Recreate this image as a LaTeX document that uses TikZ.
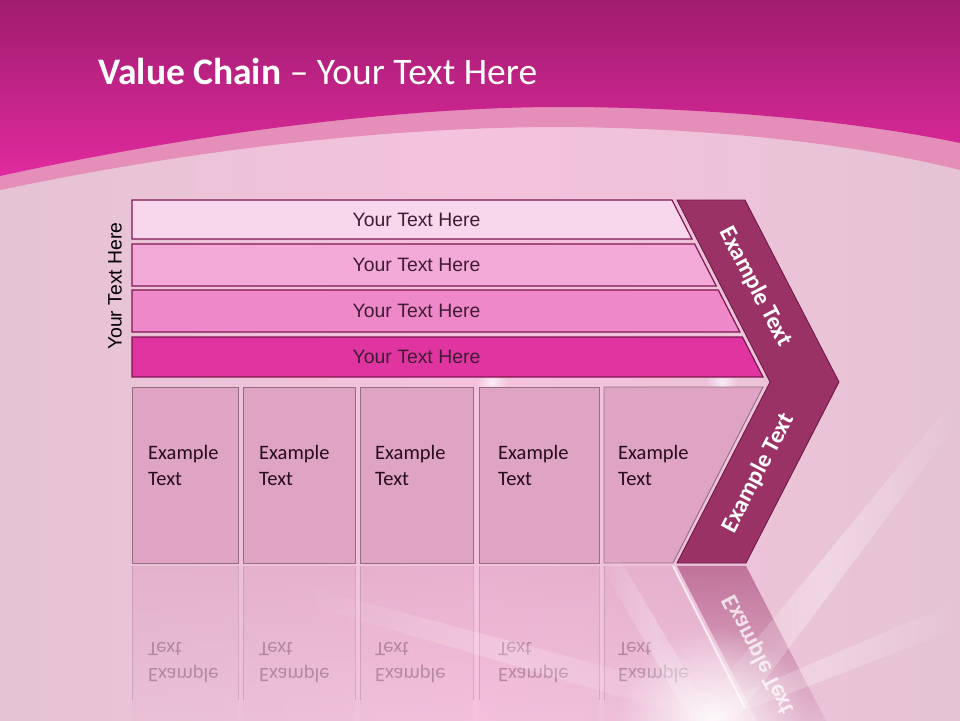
\documentclass[tikz,border=0pt]{standalone}
\usepackage{fontspec}
\setmainfont{Carlito}
\newfontfamily\barfont{Liberation Sans}
\usetikzlibrary{positioning}
\usetikzlibrary{fadings}

\definecolor{topdark}{RGB}{160,28,110}
\definecolor{topmid}{RGB}{224,42,158}
\definecolor{bandpink}{RGB}{229,142,186}
\definecolor{lightbg}{RGB}{245,194,222}
\definecolor{edgebg}{RGB}{229,195,211}
\definecolor{barA}{RGB}{248,215,237}
\definecolor{barB}{RGB}{244,170,216}
\definecolor{barC}{RGB}{238,136,200}
\definecolor{barD}{RGB}{224,53,160}
\definecolor{barline}{RGB}{128,22,82}
\definecolor{boxfill}{RGB}{223,163,195}
\definecolor{boxline}{RGB}{150,110,132}
\definecolor{chevfill}{RGB}{155,50,102}
\definecolor{chevline}{RGB}{105,22,66}
\definecolor{bartext}{RGB}{62,28,52}
\definecolor{boxtext}{RGB}{40,12,30}

\tikzfading[name=reflectfade, top color=transparent!45, bottom color=transparent!100]
\tikzfading[name=glowfade, inner color=transparent!0, outer color=transparent!100]
\tikzfading[name=rayfade, left color=transparent!100, right color=transparent!100, middle color=transparent!40]

\begin{document}
\begin{tikzpicture}[x=1pt, y=-1pt,
                    bar/.style={draw=barline, line width=1.2pt},
                    bartxt/.style={text=bartext, inner sep=0pt, font=\barfont\fontsize{19.4}{22}\selectfont},
                    exbox/.style={draw=boxline, line width=0.9pt, fill=boxfill},
                    boxtxt/.style={text=boxtext, anchor=west, align=left, inner sep=0pt, font=\fontsize{20.5}{26}\selectfont},
                    chevtxt/.style={text=white, inner sep=0pt, font=\bfseries\fontsize{24}{26}\selectfont},
                    mirror/.style={yscale=-1, opacity=0.28},
                    ray/.style={fill=white, path fading=rayfade},
                   ]
  \useasboundingbox (0,0) rectangle (960,720);

  %Background
  \shade[left color=edgebg, right color=edgebg, middle color=lightbg] (0,0) rectangle (960,720);
  \fill[bandpink] (0,0) -- (960,0) -- (960,170) .. controls (860,145) and (720,128) .. (560,127)
                  .. controls (420,127) and (230,142) .. (0,190) -- cycle;
  \shade[top color=topdark, bottom color=topmid] (0,0) -- (960,0) -- (960,143)
                  .. controls (850,120) and (700,107) .. (560,107)
                  .. controls (420,107) and (220,128) .. (0,176) -- cycle;

  %Title
  \node[anchor=base west, text=white, inner sep=0pt, font=\fontsize{37.5}{42}\selectfont] (title) at (98,84)
       {\textbf{Value Chain} – Your Text Here};

  %Glows
  \fill[white, opacity=0.7, path fading=glowfade] (492,382) circle (16);
  \fill[white, opacity=0.7, path fading=glowfade] (722,382) circle (16);

  %Bars
  \draw[bar, fill=barA] (132,200) -- (672,200) -- (692,239) -- (132,239) -- cycle;
  \draw[bar, fill=barB] (132,244) -- (694.6,244) -- (716.2,286) -- (132,286) -- cycle;
  \draw[bar, fill=barC] (132,290) -- (718.3,290) -- (739.9,332) -- (132,332) -- cycle;
  \draw[bar, fill=barD] (132,337) -- (742.4,337) -- (763,377) -- (132,377) -- cycle;
  \node[bartxt] (bar1) at (416.5,219.5) {Your Text Here};
  \node[bartxt] (bar2) at (416.5,265)   {Your Text Here};
  \node[bartxt] (bar3) at (416.5,311)   {Your Text Here};
  \node[bartxt] (bar4) at (416.5,357)   {Your Text Here};
  \node[bartxt, text=black, rotate=90] (side) at (115,286) {Your Text Here};

  %Boxes
  \draw[exbox] (132,387) rectangle (238,563);
  \draw[exbox] (243,387) rectangle (355,563);
  \draw[exbox] (360,387) rectangle (473,563);
  \draw[exbox] (479,387) rectangle (599,563);
  \draw[exbox] (604,387) -- (763,387) -- (673,563) -- (604,563) -- cycle;
  \node[boxtxt] (ex1) at (148,465) {Example\\Text};
  \node[boxtxt] (ex2) at (259,465) {Example\\Text};
  \node[boxtxt] (ex3) at (375,465) {Example\\Text};
  \node[boxtxt] (ex4) at (498,465) {Example\\Text};
  \node[boxtxt] (ex5) at (618,465) {Example\\Text};

  %Chevron
  \draw[fill=chevfill, draw=chevline, line width=0.8pt]
       (677,200) -- (745,200) -- (839,382) -- (746,563) -- (677,563) -- (770,382) -- cycle;
  \node[chevtxt, rotate=-62.5] (chevtop) at (755.5,287) {Example Text};
  \node[chevtxt, rotate=62.5]  (chevbot) at (758.5,473) {Example Text};

  %Reflections
  \fill[boxfill, path fading=reflectfade] (132,566) rectangle (238,742);
  \fill[boxfill, path fading=reflectfade] (243,566) rectangle (355,742);
  \fill[boxfill, path fading=reflectfade] (360,566) rectangle (473,742);
  \fill[boxfill, path fading=reflectfade] (479,566) rectangle (599,742);
  \fill[boxfill, path fading=reflectfade] (604,566) -- (673,566) -- (763,742) -- (604,742) -- cycle;
  \draw[boxline, opacity=0.3] (132,566) -- (132,700) (238,566) -- (238,700) (243,566) -- (243,700)
       (355,566) -- (355,700) (360,566) -- (360,700) (473,566) -- (473,700) (479,566) -- (479,700)
       (599,566) -- (599,700) (604,566) -- (604,700);
  \draw[white, line width=2pt, opacity=0.7] (673,566) -- (745,708);
  \fill[chevfill, path fading=reflectfade] (677,566) -- (746,566) -- (839,746) -- (770,746) -- cycle;
  \node[boxtxt, mirror] (mex1) at (148,663) {Example\\Text};
  \node[boxtxt, mirror] (mex2) at (259,663) {Example\\Text};
  \node[boxtxt, mirror] (mex3) at (375,663) {Example\\Text};
  \node[boxtxt, mirror] (mex4) at (498,663) {Example\\Text};
  \node[boxtxt, mirror] (mex5) at (618,663) {Example\\Text};
  \node[chevtxt, yscale=-1, rotate=62.5, opacity=0.75] (mchev) at (758.5,655) {Example Text};

  %Light rays
  \fill[ray, opacity=0.55] (690,720) -- (735,720) -- (960,420) -- (960,392) -- cycle;
  \fill[ray, opacity=0.45] (680,720) -- (720,720) -- (960,628) -- (960,600) -- cycle;
  \fill[ray, opacity=0.35] (700,720) -- (730,700) -- (300,585) -- (290,600) -- cycle;
  \fill[ray, opacity=0.45] (690,720) -- (715,720) -- (620,560) -- (598,560) -- cycle;
  \fill[white, opacity=0.9, path fading=glowfade] (712,722) circle (95);
\end{tikzpicture}
\end{document}
